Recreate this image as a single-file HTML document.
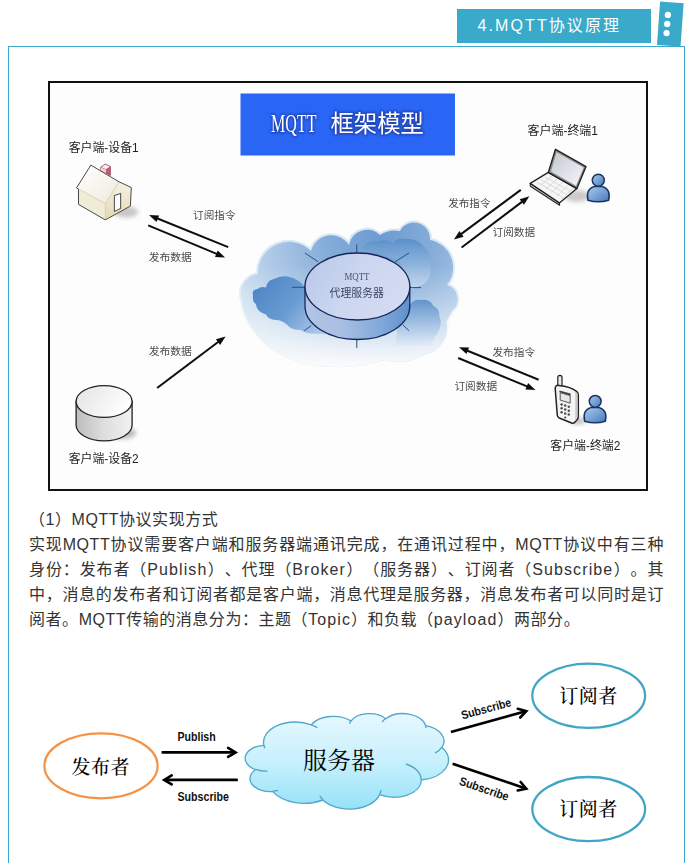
<!DOCTYPE html>
<html lang="zh-CN">
<head>
<meta charset="utf-8">
<title>4.MQTT协议原理</title>
<style>
html,body{margin:0;padding:0;background:#fff;}
body{width:694px;height:863px;position:relative;overflow:hidden;font-family:"Liberation Sans","Noto Sans CJK SC",sans-serif;}
.hdr{position:absolute;left:457px;top:9px;width:194px;height:33.6px;background:#3aaaca;color:#fff;font-size:16px;line-height:34px;letter-spacing:2.1px;white-space:nowrap;}
.hdr span{position:absolute;left:20.5px;top:0;}
.box{position:absolute;left:8px;top:46px;width:675px;height:900px;border:1px solid #3aaaca;background:#fff;}
.img{position:absolute;left:48px;top:81px;width:596px;height:406px;border:2px solid #111;background:#fdfdfd;}
.p{position:absolute;left:29px;width:635px;margin:0;font-size:16px;line-height:25px;height:25px;color:#333;letter-spacing:0.544px;white-space:nowrap;text-spacing-trim:space-all;}
.p b{font-weight:normal;letter-spacing:1.1px;}
.j{text-align:justify;text-align-last:justify;white-space:normal;}
svg{position:absolute;left:0;top:0;}
.ls{font-family:"Liberation Sans","Noto Sans CJK SC",sans-serif;font-size:12px;fill:#222;font-weight:400;}
.lh{font-family:"Liberation Sans","Noto Sans CJK SC",sans-serif;font-size:10.5px;fill:#4a4a4a;}
.big{font-family:"Liberation Serif","Noto Serif CJK SC",serif;font-size:19px;fill:#000;font-weight:500;}
.cal{font-family:"Liberation Sans",sans-serif;font-size:12px;font-weight:bold;fill:#111;}
</style>
</head>
<body>
<div class="box"></div>
<div class="hdr"><span>4.MQTT协议原理</span></div>
<div class="img"></div>

<p class="p" style="top:507px">（1）MQTT协议实现方式</p>
<p class="p j" style="top:532px">实现MQTT协议需要客户端和服务器端通讯完成，在通讯过程中，MQTT协议中有三种</p>
<p class="p j" style="top:557px">身份：发布者（<b>Publish</b>）、代理（<b>Broker</b>）（服务器）、订阅者（<b>Subscribe</b>）。其</p>
<p class="p j" style="top:582px">中，消息的发布者和订阅者都是客户端，消息代理是服务器，消息发布者可以同时是订</p>
<p class="p" style="top:607px">阅者。MQTT传输的消息分为：主题（<b>Topic</b>）和负载（<b>payload</b>）两部分。</p>

<svg width="694" height="863" viewBox="0 0 694 863">
<defs>
<linearGradient id="cg" x1="0" y1="0" x2="0" y2="1"><stop offset="0" stop-color="#e6f8ff"/><stop offset="0.5" stop-color="#c8f0fc"/><stop offset="1" stop-color="#96e2f8"/></linearGradient>
<radialGradient id="mc" gradientUnits="userSpaceOnUse" cx="380" cy="238" r="150"><stop offset="0" stop-color="#6c9bd0"/><stop offset="0.35" stop-color="#84acd8"/><stop offset="0.7" stop-color="#aac6e6"/><stop offset="1" stop-color="#c9dcef"/></radialGradient>
<linearGradient id="mcf" gradientUnits="userSpaceOnUse" x1="0" y1="265" x2="0" y2="371"><stop offset="0" stop-color="#fdfdfd" stop-opacity="0"/><stop offset="0.4" stop-color="#fdfdfd" stop-opacity="0.3"/><stop offset="0.7" stop-color="#fdfdfd" stop-opacity="0.62"/><stop offset="0.9" stop-color="#fdfdfd" stop-opacity="0.88"/><stop offset="1" stop-color="#fdfdfd" stop-opacity="1"/></linearGradient>
<linearGradient id="ic1" gradientUnits="userSpaceOnUse" x1="252" y1="285" x2="315" y2="335"><stop offset="0" stop-color="#4a84c4"/><stop offset="0.55" stop-color="#6a9cd2"/><stop offset="1" stop-color="#a9c6e6"/></linearGradient>
<linearGradient id="ic2" gradientUnits="userSpaceOnUse" x1="0" y1="238" x2="0" y2="292"><stop offset="0" stop-color="#5a8fca"/><stop offset="0.5" stop-color="#8fb5de" stop-opacity="0.9"/><stop offset="1" stop-color="#dfeaf6" stop-opacity="0.6"/></linearGradient>
<linearGradient id="ic3" gradientUnits="userSpaceOnUse" x1="0" y1="299" x2="0" y2="348"><stop offset="0" stop-color="#5e93cb"/><stop offset="0.45" stop-color="#8db2dc" stop-opacity="0.75"/><stop offset="1" stop-color="#a9c6e6" stop-opacity="0"/></linearGradient>
<linearGradient id="dtop" gradientUnits="userSpaceOnUse" x1="305" y1="260" x2="405" y2="320"><stop offset="0" stop-color="#b9c9e8"/><stop offset="0.5" stop-color="#cdd7f0"/><stop offset="1" stop-color="#d6dcf3"/></linearGradient>
<linearGradient id="dside" gradientUnits="userSpaceOnUse" x1="305" y1="0" x2="410" y2="0"><stop offset="0" stop-color="#b4c4e5"/><stop offset="0.35" stop-color="#a9bfe3"/><stop offset="0.75" stop-color="#7ea6d8"/><stop offset="1" stop-color="#5f90cb"/></linearGradient>
<linearGradient id="cyl" gradientUnits="userSpaceOnUse" x1="76" y1="0" x2="132" y2="0"><stop offset="0" stop-color="#bdbdbd"/><stop offset="0.5" stop-color="#dedede"/><stop offset="1" stop-color="#f1f1f1"/></linearGradient>
<linearGradient id="cyt" gradientUnits="userSpaceOnUse" x1="80" y1="390" x2="125" y2="415"><stop offset="0" stop-color="#e6e6e6"/><stop offset="1" stop-color="#ffffff"/></linearGradient>
<linearGradient id="per" x1="0" y1="0" x2="1" y2="1"><stop offset="0" stop-color="#aecbec"/><stop offset="0.55" stop-color="#739ed4"/><stop offset="1" stop-color="#4777ba"/></linearGradient>
<linearGradient id="roof" x1="0" y1="0" x2="1" y2="1"><stop offset="0" stop-color="#ffffff"/><stop offset="1" stop-color="#efeadb"/></linearGradient>
<linearGradient id="wall" x1="0" y1="0" x2="0" y2="1"><stop offset="0" stop-color="#f6f2e3"/><stop offset="1" stop-color="#e4d9b4"/></linearGradient>
<linearGradient id="scr" x1="0" y1="0" x2="1" y2="1"><stop offset="0" stop-color="#c4c8d2"/><stop offset="1" stop-color="#f6f7fa"/></linearGradient>
<filter id="b1" x="-10%" y="-10%" width="120%" height="120%"><feGaussianBlur stdDeviation="0.7"/></filter>
<filter id="b2" x="-30%" y="-30%" width="160%" height="160%"><feGaussianBlur stdDeviation="2.2"/></filter>
<filter id="b3" x="-10%" y="-10%" width="120%" height="120%"><feGaussianBlur stdDeviation="0.35"/></filter>
<linearGradient id="halo" gradientUnits="userSpaceOnUse" x1="0" y1="221" x2="0" y2="345"><stop offset="0" stop-color="#d6e4f3"/><stop offset="0.55" stop-color="#e2ecf7"/><stop offset="1" stop-color="#fdfdfd"/></linearGradient>
<filter id="b4" x="-10%" y="-30%" width="120%" height="160%"><feGaussianBlur stdDeviation="0.9"/></filter>
<filter id="b5" filterUnits="userSpaceOnUse" x="50" y="83" width="596" height="406"><feGaussianBlur stdDeviation="0.4"/></filter>

</defs>
<g transform="translate(670.3,24.1) rotate(4.1)"><rect x="-11.8" y="-21.7" width="23.6" height="43.4" fill="#3aaaca"/><circle cx="-3.1" cy="-9" r="3.15" fill="#fff"/><circle cx="-3.1" cy="0.1" r="3.15" fill="#fff"/><circle cx="-3.1" cy="9.2" r="3.15" fill="#fff"/></g>
<g filter="url(#b5)">
<rect x="240.5" y="93.5" width="214.5" height="62" fill="#2c66f6"/>
<g filter="url(#b4)" opacity="0.6"><text x="271" y="132" textLength="45.5" lengthAdjust="spacingAndGlyphs" style="font-family:'Liberation Serif',serif;font-size:26px;fill:#1a3596;stroke:#1a3596;stroke-width:3.2px;stroke-linejoin:round">MQTT</text><text x="330.5" y="132.4" textLength="93.5" lengthAdjust="spacingAndGlyphs" style="font-family:'Liberation Sans','Noto Sans CJK SC',sans-serif;font-size:23.5px;fill:#1a3596;stroke:#1a3596;stroke-width:3.2px;stroke-linejoin:round;font-weight:400">框架模型</text></g>
<text x="271" y="132" textLength="45.5" lengthAdjust="spacingAndGlyphs" style="font-family:'Liberation Serif',serif;font-size:26px;fill:#fff">MQTT</text>
<text x="330.5" y="132.4" textLength="93.5" lengthAdjust="spacingAndGlyphs" style="font-family:'Liberation Sans','Noto Sans CJK SC',sans-serif;font-size:23.5px;fill:#fff;font-weight:400">框架模型</text>
<!-- main cloud -->
<g filter="url(#b1)">
<path d="M242,300 A20 20 0 0 1 258,274 A31 31 0 0 1 311,251 A21 21 0 0 1 349,245 A18.5 18.5 0 0 1 380,235 A27 27 0 0 1 400,231 A16 16 0 0 1 430,240 A28 28 0 0 1 447,285 A15 15 0 0 1 452,311 L446,322 A26 26 0 0 1 426,354 Q405,366 385,360 Q350,371 310,365 Q270,356 255,332 Q244,318 242,300Z" fill="none" stroke="url(#halo)" stroke-width="4"/>
<path d="M242,300 A20 20 0 0 1 258,274 A31 31 0 0 1 311,251 A21 21 0 0 1 349,245 A18.5 18.5 0 0 1 380,235 A27 27 0 0 1 400,231 A16 16 0 0 1 430,240 A28 28 0 0 1 447,285 A15 15 0 0 1 452,311 L446,322 A26 26 0 0 1 426,354 Q405,366 385,360 Q350,371 310,365 Q270,356 255,332 Q244,318 242,300Z" fill="url(#mc)"/>
<path d="M242,300 A20 20 0 0 1 258,274 A31 31 0 0 1 311,251 A21 21 0 0 1 349,245 A18.5 18.5 0 0 1 380,235 A27 27 0 0 1 400,231 A16 16 0 0 1 430,240 A28 28 0 0 1 447,285 A15 15 0 0 1 452,311 L446,322 A26 26 0 0 1 426,354 Q405,366 385,360 Q350,371 310,365 Q270,356 255,332 Q244,318 242,300Z" fill="url(#mcf)"/>
<path d="M361,249 Q366,240 379,241 Q386,238 392.5,243 Q398,237 406,239 Q418,238 424,247 Q433,254 430.6,266 Q432,278 424,284 L409,290 L400,262 L380,252Z" fill="url(#ic2)"/>
<path d="M253,296 Q251,290 257.5,289 Q261,286 266,287.5 Q267,280 274,279 Q285,273 297,280 Q303,283 304.5,288 L330,300 L330,334 L311,333.4 Q304,333 300.7,330 Q291,330 287,324.8 Q282,320 276,320 Q268,319 266,314.4 Q257,312 255.8,304 Q252,301 253,296Z" fill="url(#ic1)"/>
<path d="M400,310 Q404,304 410.7,304 Q414,299 421,300 Q430,299 433.2,305.8 Q440,309 439.2,316 Q443,324 438,332 L430,346 L395,346Z" fill="url(#ic3)"/>
</g>
<!-- spokes -->
<g stroke="#2b4d85" stroke-width="1" fill="none">
<path d="M356.8,244.4V253 M305,253L318,261.7 M409,253L395.1,261.7 M292,287.3H305 M409.8,287.6H421.1 M311.1,325.6L304.2,330.8 M356.8,339.5V348.1 M402.9,324.8L409,330.8"/>
</g>
<!-- disc -->
<path d="M305,286.5V306 A52.4 33.5 0 0 0 409.8,306 V286.5Z" fill="url(#dside)" stroke="#14275a" stroke-width="1.3"/>
<ellipse cx="357.4" cy="286.5" rx="52.4" ry="33.5" fill="url(#dtop)" stroke="#14275a" stroke-width="1.3"/>
<text x="344.5" y="280" textLength="25" lengthAdjust="spacingAndGlyphs" style="font-family:'Liberation Serif',serif;font-size:10.5px;fill:#4b5570">MQTT</text>
<text x="329.6" y="296.8" textLength="54.3" lengthAdjust="spacingAndGlyphs" style="font-family:'Liberation Sans','Noto Sans CJK SC',sans-serif;font-size:11px;fill:#3d4864">代理服务器</text>
<!-- house -->
<ellipse cx="126" cy="212" rx="12" ry="5.5" fill="#c6c6c6" filter="url(#b2)"/>
<polygon points="119.2,181.9 131.3,187.5 130.4,206.1 105.3,219.9 105.3,203.5" fill="url(#wall)"/>
<polygon points="78.5,189.7 105.3,203.5 105.3,219.9 78.5,204.4" fill="#f1ecd8"/>
<polygon points="100.6,167.4 105.3,164.2 110.5,166.5 110.5,175.4 100.6,170.4" fill="#c35a76" stroke="#8a3a4e" stroke-width="0.6"/>
<polygon points="100.6,167.4 105.3,164.2 110.5,166.5 106,169.6" fill="#f8ecef" stroke="#8a3a4e" stroke-width="0.5"/>
<polygon points="100.6,167.4 106,169.6 106,173.2 100.6,170.4" fill="#ecd0d8"/>
<polygon points="90.9,165.1 119.2,181.9 105.3,203.5 76.5,187.9" fill="url(#roof)"/>
<path d="M76.5,187.9L105.3,203.5L119.2,181.9 M105.3,203.5V219.9" stroke="#cfc6a4" stroke-width="0.8" fill="none"/>
<path d="M90.9,165.1 L119.2,181.9 L131.3,187.5 L130.4,206.1 L105.3,219.9 L78.5,204.4 L78.5,189.2 L76.5,187.9Z" fill="none" stroke="#4a4a4a" stroke-width="1" stroke-linejoin="round"/>
<polygon points="114.4,195.4 120.6,193.4 120.6,208.4 114.4,211.4" fill="#fcfcfc" stroke="#5a5a5a" stroke-width="1.1"/>
<!-- cylinder -->
<ellipse cx="122" cy="433" rx="14" ry="6" fill="#bbb" filter="url(#b2)"/>
<path d="M76.1,401.5V425 A28 15.9 0 0 0 132.1,425 V401.5Z" fill="url(#cyl)" stroke="#222" stroke-width="1.3"/>
<ellipse cx="104.1" cy="401.5" rx="28" ry="15.9" fill="url(#cyt)" stroke="#222" stroke-width="1.3"/>
<!-- laptop -->
<ellipse cx="577" cy="196" rx="13" ry="6" fill="#cacaca" filter="url(#b2)"/>
<polygon points="530.2,183.4 559.4,202.9 559.6,205.2 530.4,186.2" fill="#d8d8d8" stroke="#222" stroke-width="1.1" stroke-linejoin="round"/>
<polygon points="548.3,172.4 576.9,188.6 559.4,202.9 530.2,183.4" fill="#f6f6f6" stroke="#222" stroke-width="1.3" stroke-linejoin="round"/>
<path d="M545.5,177.3L571,191.6 M541.5,179.8L567,194.6 M537.5,182.3L563,197.8 M552,176L540.5,185.2 M557.5,179L546,188.8 M563,182L551.5,192.4 M568.5,185L557,196 M573.5,187.7L562,199.2" stroke="#d2d2d2" stroke-width="0.8" fill="none"/>
<polygon points="555.5,149.3 586,166.6 576.9,188.6 548.3,172.4" fill="#8e8e92" stroke="#222" stroke-width="1.4" stroke-linejoin="round"/>
<polygon points="556.6,152.3 583.6,167.6 576,185.8 551,171.6" fill="url(#scr)"/>
<!-- person 1 -->
<g stroke="#19345f" stroke-width="1.5" fill="url(#per)">
<path d="M588,200.3 C586.3,193 589,188.2 594,186.6 L602.6,186.6 C607.6,188.2 610.3,193 608.6,200.3 Q598.3,203.4 588,200.3Z"/>
<circle cx="598.3" cy="180.2" r="6"/>
</g>
<!-- phone -->
<ellipse cx="578" cy="421" rx="8" ry="3.5" fill="#c4c4c4" filter="url(#b2)"/>
<path d="M557.8,386.5 V377.6 Q557.8,375.4 559.9,375.4 Q562,375.4 562,377.6 V387.5Z" fill="#ececec" stroke="#222" stroke-width="1.2"/>
<path d="M555.2,388.5 Q555.2,385 558.8,385.4 Q571,386.6 576.8,391.6 Q578.3,392.9 578.3,395 L578.3,416.6 Q578.3,418.6 576.8,420 L574.6,422.6 Q573.2,423.6 571.6,423 L559.2,418 Q557.5,417.2 557.3,415.2Z" fill="#f4f4f4" stroke="#222" stroke-width="1.5" stroke-linejoin="round"/>
<path d="M575.3,391.3 L577.6,393.6 L577.6,417 L575.3,421.2Z" fill="#c9c9c9"/>
<polygon points="559.4,390.4 570.6,393.6 570.6,395.4 559.4,392.2" fill="#444"/>
<polygon points="560.2,392.6 570.2,395.7 570.2,403.2 560.2,400.1" fill="#e3e8ef" stroke="#444" stroke-width="0.9"/>
<g fill="#505050">
<circle cx="561.6" cy="404.4" r="1.25"/><circle cx="565.2" cy="405.6" r="1.25"/><circle cx="568.8" cy="406.8" r="1.25"/>
<circle cx="561.6" cy="408.3" r="1.25"/><circle cx="565.2" cy="409.5" r="1.25"/><circle cx="568.8" cy="410.7" r="1.25"/>
<circle cx="561.6" cy="412.2" r="1.25"/><circle cx="565.2" cy="413.4" r="1.25"/><circle cx="568.8" cy="414.6" r="1.25"/>
<circle cx="565.2" cy="417.5" r="1.1"/>
</g>
<!-- person 2 -->
<g stroke="#19345f" stroke-width="1.5" fill="url(#per)">
<path d="M584.7,421.3 C583,414 585.7,409.2 590.7,407.6 L599.3,407.6 C604.3,409.2 607,414 605.3,421.3 Q595,424.4 584.7,421.3Z"/>
<circle cx="595.2" cy="401.3" r="5.9"/>
</g>

<line x1="228.2" y1="247.1" x2="156.9" y2="218.3" stroke="#111" stroke-width="2.0"/><polygon points="149.0,215.1 159.1,215.4 156.5,221.9" fill="#111"/><line x1="148.2" y1="225.4" x2="217.3" y2="254.1" stroke="#111" stroke-width="2.0"/><polygon points="225.1,257.4 215.0,257.0 217.7,250.5" fill="#111"/><line x1="520.8" y1="189.9" x2="460.7" y2="234.4" stroke="#111" stroke-width="2.0"/><polygon points="453.9,239.5 459.4,231.0 463.6,236.7" fill="#111"/><line x1="461.6" y1="247.5" x2="522.6" y2="201.4" stroke="#111" stroke-width="2.0"/><polygon points="529.4,196.3 523.9,204.8 519.7,199.2" fill="#111"/><line x1="157.1" y1="388.0" x2="218.8" y2="341.5" stroke="#111" stroke-width="2.0"/><polygon points="225.6,336.4 220.1,344.9 215.9,339.3" fill="#111"/><line x1="538.6" y1="379.7" x2="466.9" y2="350.5" stroke="#111" stroke-width="2.0"/><polygon points="459.0,347.3 469.1,347.6 466.5,354.1" fill="#111"/><line x1="458.2" y1="358.0" x2="527.6" y2="386.7" stroke="#111" stroke-width="2.0"/><polygon points="535.5,390.0 525.4,389.6 528.1,383.1" fill="#111"/>
<text x="68.7" y="152.0" textLength="70.0" lengthAdjust="spacingAndGlyphs" class="ls">客户端-设备1</text><text x="527.5" y="135.2" textLength="70.5" lengthAdjust="spacingAndGlyphs" class="ls">客户端-终端1</text><text x="68.7" y="462.6" textLength="70.0" lengthAdjust="spacingAndGlyphs" class="ls">客户端-设备2</text><text x="550.3" y="450.0" textLength="70.0" lengthAdjust="spacingAndGlyphs" class="ls">客户端-终端2</text><text x="193.1" y="218.6" textLength="42.4" lengthAdjust="spacingAndGlyphs" class="lh">订阅指令</text><text x="148.7" y="261.2" textLength="43.2" lengthAdjust="spacingAndGlyphs" class="lh">发布数据</text><text x="448.2" y="207.2" textLength="42.3" lengthAdjust="spacingAndGlyphs" class="lh">发布指令</text><text x="492.6" y="236.0" textLength="42.5" lengthAdjust="spacingAndGlyphs" class="lh">订阅数据</text><text x="148.7" y="355.2" textLength="43.2" lengthAdjust="spacingAndGlyphs" class="lh">发布数据</text><text x="492.4" y="355.6" textLength="42.7" lengthAdjust="spacingAndGlyphs" class="lh">发布指令</text><text x="454.4" y="389.8" textLength="42.7" lengthAdjust="spacingAndGlyphs" class="lh">订阅数据</text>
</g>
<!--DIAGRAM2-->
<ellipse cx="101" cy="765.8" rx="56.6" ry="32.5" fill="#fff" stroke="#f59245" stroke-width="2.2"/>
<ellipse cx="588.7" cy="695.7" rx="56.4" ry="32.1" fill="#fff" stroke="#3fa6c6" stroke-width="2.3"/>
<ellipse cx="588.7" cy="809.1" rx="56.4" ry="32.1" fill="#fff" stroke="#3fa6c6" stroke-width="2.3"/>
<path d="M263.8 745.0 A31.7 20.3 0 0 1 311.3 724.8 A25.1 16.0 0 0 1 351.0 720.9 A20.5 13.1 0 0 1 385.7 718.8 A22.8 14.6 0 0 1 425.6 725.6 A25.1 16.1 0 0 1 442.0 747.4 A31.8 20.4 0 0 1 421.3 780.0 A27.2 17.4 0 0 1 379.7 794.6 A31.7 20.3 0 0 1 322.9 800.0 A36.3 23.3 0 0 1 272.8 791.6 A20.5 13.1 0 0 1 255.4 769.7 A20.4 13.1 0 0 1 263.6 745.3Z" fill="url(#cg)" stroke="#52a8c9" stroke-width="1.35"/>
<path d="M267.5 771.1 A20.4 13.1 0 0 1 255.6 769.3 M278.0 790.3 A20.5 13.1 0 0 1 272.8 791.2 M322.9 799.6 A31.7 20.3 0 0 1 319.8 795.8 M381.0 790.0 A31.7 20.3 0 0 1 379.7 794.2 M405.9 764.0 A27.2 17.4 0 0 1 421.2 779.7 M441.9 747.2 A25.1 16.1 0 0 1 435.1 753.1 M425.6 725.3 A22.8 14.6 0 0 1 426.0 728.1 M382.1 722.0 A22.8 14.6 0 0 1 385.6 718.5 M349.5 723.7 A20.5 13.1 0 0 1 351.2 720.6 M311.3 724.8 A31.7 20.3 0 0 1 317.4 727.7 M264.9 748.1 A31.7 20.3 0 0 1 263.8 745.0" fill="none" stroke="#52a8c9" stroke-width="1.35"/>
<line x1="161.6" y1="752.4" x2="234.1" y2="752.4" stroke="#000" stroke-width="2.6"/><polyline points="228.1,756.9 235.6,752.4 228.1,747.9" fill="none" stroke="#000" stroke-width="2.6" stroke-linejoin="miter" stroke-linecap="round"/><line x1="237.8" y1="779.9" x2="165.7" y2="779.9" stroke="#000" stroke-width="2.6"/><polyline points="171.7,775.4 164.2,779.9 171.7,784.4" fill="none" stroke="#000" stroke-width="2.6" stroke-linejoin="miter" stroke-linecap="round"/><line x1="450.9" y1="731.9" x2="524.8" y2="711.5" stroke="#000" stroke-width="2.6"/><polyline points="520.2,717.5 526.3,711.1 517.8,708.8" fill="none" stroke="#000" stroke-width="2.6" stroke-linejoin="miter" stroke-linecap="round"/><line x1="452.6" y1="763.7" x2="524.9" y2="788.2" stroke="#000" stroke-width="2.6"/><polyline points="517.7,790.5 526.3,788.7 520.6,782.0" fill="none" stroke="#000" stroke-width="2.6" stroke-linejoin="miter" stroke-linecap="round"/>
<text x="71.4" y="773.5" textLength="58" lengthAdjust="spacing" class="big">发布者</text>
<text x="559.3" y="703" textLength="58" lengthAdjust="spacing" class="big">订阅者</text>
<text x="559.3" y="816.4" textLength="58" lengthAdjust="spacing" class="big">订阅者</text>
<text x="303" y="769" textLength="72" lengthAdjust="spacing" class="big" style="font-size:24px;font-weight:400">服务器</text>
<text x="177.5" y="741" textLength="38.2" lengthAdjust="spacingAndGlyphs" class="cal">Publish</text>
<text x="177.5" y="800.6" textLength="51.4" lengthAdjust="spacingAndGlyphs" class="cal">Subscribe</text>
<text x="0" y="0" textLength="51.4" lengthAdjust="spacingAndGlyphs" class="cal" transform="translate(462.5,719.5) rotate(-15.4)">Subscribe</text>
<text x="0" y="0" textLength="51.4" lengthAdjust="spacingAndGlyphs" class="cal" transform="translate(458.5,784.5) rotate(18.7)">Subscribe</text>
</svg>
</body>
</html>
